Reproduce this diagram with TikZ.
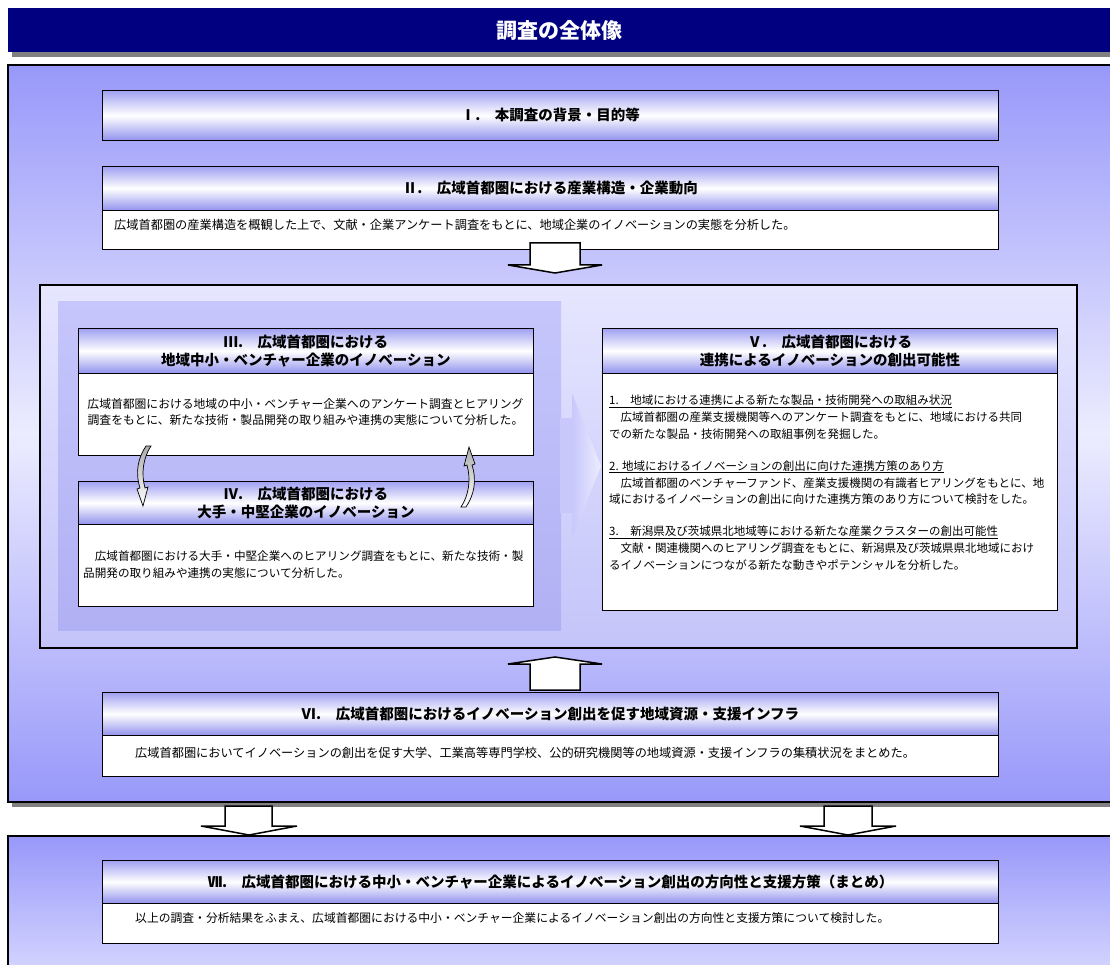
\documentclass[tikz,border=0pt]{standalone}
\usepackage{fontspec}
\setmainfont{Noto Sans CJK JP}
\usetikzlibrary{shadings}
\definecolor{navy}{RGB}{0,0,128}
\definecolor{shadowgray}{RGB}{128,128,128}
\definecolor{outerA}{RGB}{152,152,250}
\definecolor{outerM}{RGB}{236,236,255}
\definecolor{midA}{RGB}{230,230,255}
\definecolor{midB}{RGB}{196,196,250}
\definecolor{panelA}{RGB}{198,198,252}
\definecolor{panelB}{RGB}{176,176,244}
\definecolor{triL}{RGB}{200,200,252}
\definecolor{triR}{RGB}{236,236,255}
\definecolor{hdrtop}{RGB}{160,160,242}
\definecolor{hdrbot}{RGB}{146,146,238}
\definecolor{botB}{RGB}{214,214,255}
\newcommand\hdrfont{\fontsize{14.5}{17.5}\selectfont\bfseries}
\newcommand\bodyfont{\fontsize{12.2}{16.8}\selectfont}
\tikzset{
  hdr/.style={draw=black, line width=0.8pt, top color=hdrtop, bottom color=hdrbot, middle color=white,
              inner sep=0pt, align=center, font=\hdrfont},
  bodybox/.style={draw=black, line width=0.8pt, fill=white, inner sep=0pt},
  bodytext/.style={inner sep=0pt, font=\bodyfont},
  blockarrow/.style={draw=black, fill=white, line width=1.5pt, line join=miter},
  curvarrow/.pic={
    \draw[line width=0.7pt, top color=gray!65, bottom color=white]
      (2,-30) .. controls (-6,-18) and (-9,-4) .. (-4,12) -- (-7,13) -- (-1,30) -- (4,11) -- (1,12)
      .. controls (-3,-2) and (-1,-18) .. (7,-30) -- cycle;
  }
}
\begin{document}
\begin{tikzpicture}[x=1pt,y=-1pt]
\useasboundingbox (0,0) rectangle (1110,965);
\fill[white] (0,0) rectangle (1110,965);
% title bar
\fill[shadowgray] (12,12) rectangle (1115,57);
\fill[navy] (8,8) rectangle (1115,52);
\node[text=white, font=\fontsize{21}{24}\selectfont\bfseries, inner sep=0pt] (title) at (559,31) {調査の全体像};
% outer box
\fill[shadowgray] (12,69) rectangle (1115,807);
\draw[line width=1.6pt, top color=outerA, bottom color=outerA, middle color=outerM] (8,65) rectangle (1115,802);
% box I
\node[hdr, minimum width=896pt, minimum height=50pt, anchor=north west] (b1) at (102,90) {Ⅰ.　本調査の背景・目的等};
% box II
\node[hdr, minimum width=896pt, minimum height=44pt, anchor=north west] (b2h) at (102,166) {Ⅱ.　広域首都圏における産業構造・企業動向};
\node[bodybox, minimum width=896pt, minimum height=39pt, anchor=north west] (b2b) at (102,210) {};
\node[bodytext, anchor=west] (t2) at (114,225) {広域首都圏の産業構造を概観した上で、文献・企業アンケート調査をもとに、地域企業のイノベーションの実態を分析した。};
% arrow down 1
\draw[blockarrow] (530,243) -- (580,243) -- (580,265) -- (602,265) -- (555,273) -- (508,265) -- (530,265) -- cycle;
% middle box
\draw[line width=1.6pt, top color=midA, bottom color=midB] (40,285) rectangle (1077,648);
% left panel + big arrow
\shade[top color=panelA, bottom color=panelB] (58,302) rectangle (561,630);
\fill[triL] (560,418) rectangle (573,513);
\shade[left color=triL, right color=triR] (572,393) -- (601,466) -- (572,538) -- cycle;
% box III
\node[hdr, minimum width=455pt, minimum height=45pt, anchor=north west] (b3h) at (78,328) {Ⅲ.　広域首都圏における\\地域中小・ベンチャー企業のイノベーション};
\node[bodybox, minimum width=455pt, minimum height=82pt, anchor=north west] (b3b) at (78,373) {};
\node[bodytext, align=center, font=\fontsize{11.8}{16.8}\selectfont] (t3) at (305.5,412) {広域首都圏における地域の中小・ベンチャー企業へのアンケート調査とヒアリング\\調査をもとに、新たな技術・製品開発の取り組みや連携の実態について分析した。};
% box IV
\node[hdr, minimum width=455pt, minimum height=43pt, anchor=north west] (b4h) at (78,481) {Ⅳ.　広域首都圏における\\大手・中堅企業のイノベーション};
\node[bodybox, minimum width=455pt, minimum height=82pt, anchor=north west] (b4b) at (78,524) {};
\node[bodytext, align=left, anchor=west, font=\fontsize{11.6}{17}\selectfont] (t4) at (83,565) {　広域首都圏における大手・中堅企業へのヒアリング調査をもとに、新たな技術・製\\品開発の取り組みや連携の実態について分析した。};
% curved arrows between III and IV
\pic at (144,476) {curvarrow};
\pic[rotate=180] at (468,477) {curvarrow};
% box V
\node[hdr, minimum width=455pt, minimum height=45pt, anchor=north west] (b5h) at (602,328) {Ⅴ.　広域首都圏における\\連携によるイノベーションの創出可能性};
\node[bodybox, minimum width=455pt, minimum height=237pt, anchor=north west] (b5b) at (602,373) {};
\node[bodytext, align=left, anchor=north west, font=\fontsize{11.5}{16.8}\selectfont] (t5) at (609,395) {%
\underline{1.　地域における連携による新たな製品・技術開発への取組み状況}\\
　広域首都圏の産業支援機関等へのアンケート調査をもとに、地域における共同\\
での新たな製品・技術開発への取組事例を発掘した。\\[15pt]
\underline{2. 地域におけるイノベーションの創出に向けた連携方策のあり方}\\
　広域首都圏のベンチャーファンド、産業支援機関の有識者ヒアリングをもとに、地\\
域におけるイノベーションの創出に向けた連携方策のあり方について検討をした。\\[15pt]
\underline{3.　新潟県及び茨城県北地域等における新たな産業クラスターの創出可能性}\\
　文献・関連機関へのヒアリング調査をもとに、新潟県及び茨城県県北地域におけ\\
るイノベーションにつながる新たな動きやポテンシャルを分析した。};
% up arrow
\draw[blockarrow] (530,690) -- (580,690) -- (580,664) -- (602,664) -- (555,657) -- (508,664) -- (530,664) -- cycle;
% box VI
\node[hdr, minimum width=896pt, minimum height=43pt, anchor=north west] (b6h) at (102,692) {Ⅵ.　広域首都圏におけるイノベーション創出を促す地域資源・支援インフラ};
\node[bodybox, minimum width=896pt, minimum height=41pt, anchor=north west] (b6b) at (102,735) {};
\node[bodytext, anchor=west] (t6) at (135,753) {広域首都圏においてイノベーションの創出を促す大学、工業高等専門学校、公的研究機関等の地域資源・支援インフラの集積状況をまとめた。};
% down arrows to VII
\draw[blockarrow] (225,806) -- (272,806) -- (272,826) -- (297,826) -- (249,835) -- (201,826) -- (225,826) -- cycle;
\draw[blockarrow] (824,806) -- (872,806) -- (872,826) -- (896,826) -- (848,835) -- (800,826) -- (824,826) -- cycle;
% bottom box
\draw[line width=1.6pt, top color=outerA, bottom color=botB] (8,836) rectangle (1115,975);
% box VII
\node[hdr, minimum width=896pt, minimum height=43pt, anchor=north west] (b7h) at (102,860) {Ⅶ.　広域首都圏における中小・ベンチャー企業によるイノベーション創出の方向性と支援方策（まとめ）};
\node[bodybox, minimum width=896pt, minimum height=40pt, anchor=north west] (b7b) at (102,903) {};
\node[bodytext, anchor=west, font=\fontsize{11.8}{16.8}\selectfont] (t7) at (135,918) {以上の調査・分析結果をふまえ、広域首都圏における中小・ベンチャー企業によるイノベーション創出の方向性と支援方策について検討した。};
\end{tikzpicture}
\end{document}
